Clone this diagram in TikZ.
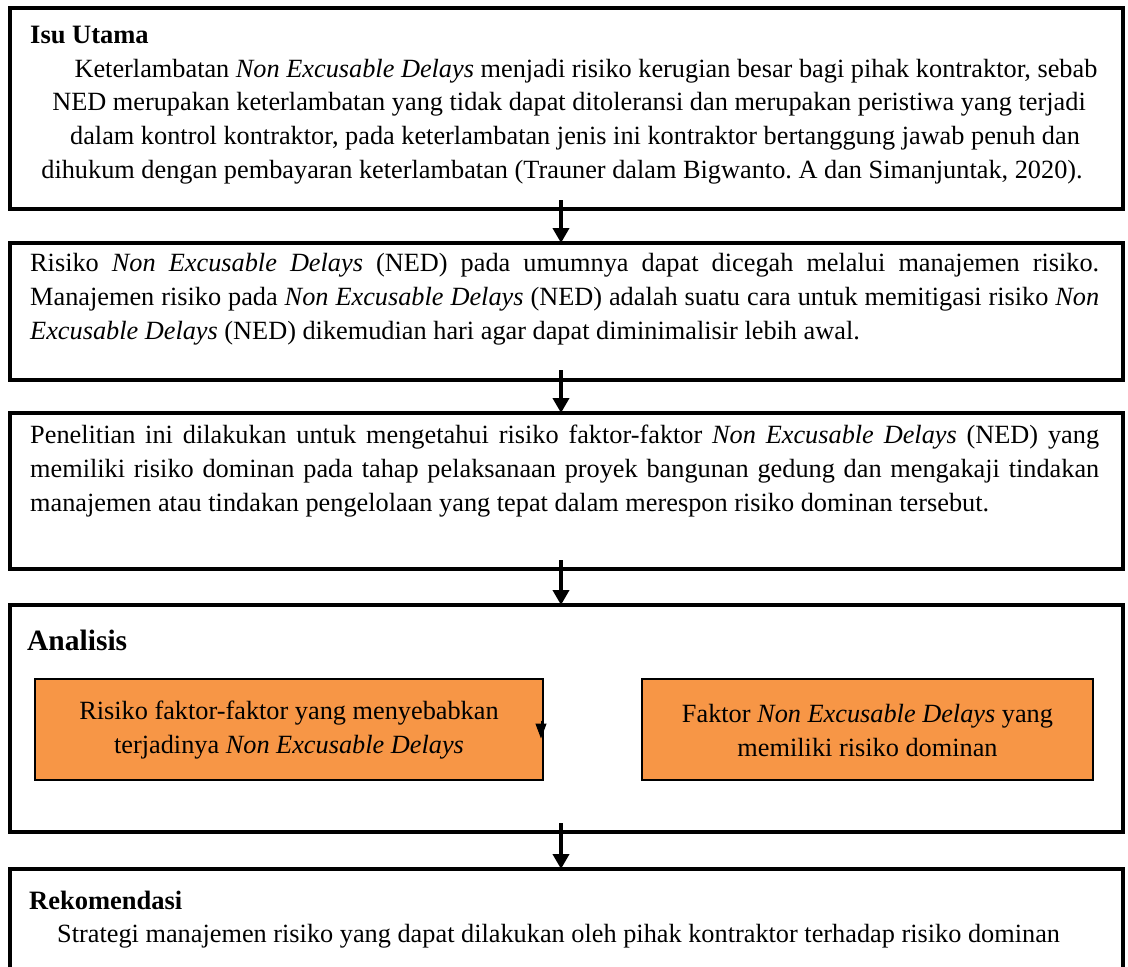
\documentclass[tikz,border=0pt]{standalone}
\usepackage{fontspec}
\setmainfont{Liberation Serif}
\usetikzlibrary{arrows.meta}
\definecolor{orangeF}{RGB}{247,150,70}
\frenchspacing
\tikzset{
  bigbox/.style={draw=black, line width=4pt, fill=white, outer sep=0pt, inner sep=0pt, anchor=north west},
  obox/.style={draw=black, line width=1.5pt, fill=orangeF, outer sep=0pt, inner sep=0pt, anchor=north west},
  flow/.style={line width=4pt, -{Triangle[length=15pt,width=16pt]}},
  tinyarrow/.style={line width=1pt, -{Triangle[length=15pt,width=11pt]}},
  txt/.style={inner sep=0pt, font=\fontsize{26.3}{34}\selectfont},
  hdr/.style={inner sep=0pt, font=\fontsize{26.5}{34}\selectfont\bfseries, anchor=base west},
}
\newcommand{\jline}[1]{\makebox[1069pt][s]{#1}}
\begin{document}
\begin{tikzpicture}[x=1pt,y=1pt]
\useasboundingbox[fill=white] (0,0) rectangle (1128,-967);
% boxes
\node[bigbox, minimum width=1113pt, minimum height=201pt] (b1) at (10,-8) {};
\node[bigbox, minimum width=1113pt, minimum height=137pt] (b2) at (10,-243) {};
\node[bigbox, minimum width=1113pt, minimum height=156pt] (b3) at (10,-413) {};
\node[bigbox, minimum width=1113pt, minimum height=227pt] (b4) at (10,-605) {};
\node[bigbox, minimum width=1113pt, minimum height=160pt] (b5) at (10,-869) {};
% orange boxes
\node[obox, minimum width=508pt, minimum height=101pt] (o1) at (35,-679) {};
\node[obox, minimum width=451pt, minimum height=101pt] (o2) at (642,-679) {};
% arrows
\coordinate (a1s) at (561,-200);
\coordinate (a2s) at (561,-370);
\coordinate (a3s) at (561,-560);
\coordinate (a4s) at (561,-823);
\draw[flow] (a1s) -- (b2.north -| a1s);
\draw[flow] (a2s) -- (b3.north -| a2s);
\draw[flow] (a3s) -- (b4.north -| a3s);
\draw[flow] (a4s) -- (b5.north -| a4s);
\coordinate (ts) at ([xshift=-2pt,yshift=9pt]o1.east);
\coordinate (te) at ([xshift=-2pt,yshift=-9pt]o1.east);
\draw[tinyarrow] (ts) -- (te);
% box 1 text
\node[hdr] (h1) at (30,-43) {Isu Utama};
\node[txt, anchor=base] (l11) at (586,-77) {Keterlambatan \textit{Non Excusable Delays} menjadi risiko kerugian besar bagi pihak kontraktor, sebab};
\node[txt, anchor=base] (l12) at (569,-110) {NED merupakan keterlambatan yang tidak dapat ditoleransi dan merupakan peristiwa yang terjadi};
\node[txt, anchor=base] (l13) at (575,-144) {dalam kontrol kontraktor, pada keterlambatan jenis ini kontraktor bertanggung jawab penuh dan};
\node[txt, anchor=base] (l14) at (562,-178) {dihukum dengan pembayaran keterlambatan (Trauner dalam Bigwanto. A dan Simanjuntak, 2020).};
% box 2 text
\node[txt, anchor=base west] (l21) at (30,-271) {\jline{Risiko \textit{Non Excusable Delays} (NED) pada umumnya dapat dicegah melalui manajemen risiko.}};
\node[txt, anchor=base west] (l22) at (30,-305) {\jline{Manajemen risiko pada \textit{Non Excusable Delays} (NED) adalah suatu cara untuk memitigasi risiko \textit{Non}}};
\node[txt, anchor=base west] (l23) at (30,-339) {\textit{Excusable Delays} (NED) dikemudian hari agar dapat diminimalisir lebih awal.};
% box 3 text
\node[txt, anchor=base west] (l31) at (30,-443) {\jline{Penelitian ini dilakukan untuk mengetahui risiko faktor-faktor \textit{Non Excusable Delays} (NED) yang}};
\node[txt, anchor=base west] (l32) at (30,-477) {\jline{memiliki risiko dominan pada tahap pelaksanaan proyek bangunan gedung dan mengakaji tindakan}};
\node[txt, anchor=base west] (l33) at (30,-511) {manajemen atau tindakan pengelolaan yang tepat dalam merespon risiko dominan tersebut.};
% box 4 text
\node[hdr, font=\fontsize{29.5}{34}\selectfont\bfseries] (h4) at (27,-650) {Analisis};
\node[txt, align=center] (ot1) at ([yshift=-1pt]o1.center) {Risiko faktor-faktor yang menyebabkan\\terjadinya \textit{Non Excusable Delays}};
\node[txt, align=center] (ot2) at ([yshift=-1pt]o2.center) {Faktor \textit{Non Excusable Delays} yang\\memiliki risiko dominan};
% box 5 text
\node[hdr] (h5) at (29,-909) {Rekomendasi};
\node[txt, anchor=base west] (l51) at (57,-942) {Strategi manajemen risiko yang dapat dilakukan oleh pihak kontraktor terhadap risiko dominan};
\end{tikzpicture}
\end{document}
